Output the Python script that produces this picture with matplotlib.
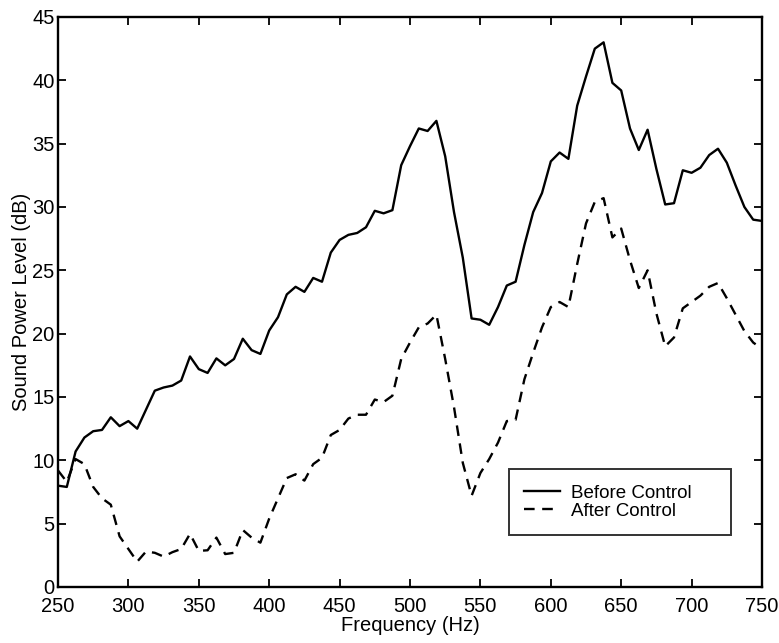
import numpy as np
import matplotlib
matplotlib.use("Agg")
import matplotlib.pyplot as plt

plt.rcParams['font.family'] = ['Liberation Sans', 'DejaVu Sans']

# Frequency grid (Hz), 6.25 Hz spacing from 250 to 750
freq = np.linspace(250, 750, 81)

before_control = [
    8.0, 7.9, 10.7, 11.8, 12.3, 12.4, 13.4, 12.7, 13.1, 12.5,
    14.0, 15.5, 15.75, 15.9, 16.3, 18.2, 17.2, 16.9, 18.05, 17.5,
    18.0, 19.6, 18.7, 18.4, 20.25, 21.3, 23.1, 23.7, 23.3, 24.4,
    24.1, 26.4, 27.4, 27.8, 27.95, 28.4, 29.7, 29.5, 29.75, 33.3,
    34.8, 36.2, 36.0, 36.8, 34.0, 29.6, 26.0, 21.2, 21.1, 20.7,
    22.1, 23.8, 24.1, 27.0, 29.6, 31.1, 33.6, 34.3, 33.8, 38.0,
    40.3, 42.5, 43.0, 39.8, 39.2, 36.2, 34.5, 36.1, 33.0, 30.2,
    30.3, 32.9, 32.7, 33.1, 34.1, 34.6, 33.5, 31.7, 30.0, 29.0,
    28.9,
]

after_control = [
    9.2, 8.3, 10.1, 9.7, 7.9, 7.0, 6.5, 4.0, 3.0, 2.0,
    2.8, 2.7, 2.4, 2.75, 3.0, 4.2, 2.85, 2.9, 3.9, 2.6,
    2.7, 4.5, 3.9, 3.5, 5.4, 7.0, 8.6, 8.9, 8.4, 9.7,
    10.2, 12.0, 12.4, 13.3, 13.6, 13.6, 14.8, 14.6, 15.1, 18.0,
    19.3, 20.5, 20.8, 21.5, 18.0, 14.2, 9.8, 7.2, 9.0, 10.1,
    11.4, 13.1, 13.2, 16.4, 18.5, 20.5, 22.1, 22.5, 22.1, 25.5,
    28.7, 30.4, 30.7, 27.6, 28.3, 25.8, 23.6, 25.0, 21.6, 19.0,
    19.7, 22.0, 22.5, 23.0, 23.7, 24.0, 22.8, 21.5, 20.2, 19.3,
    18.8,
]

x_ticks = [250, 300, 350, 400, 450, 500, 550, 600, 650, 700, 750]
y_ticks = [0, 5, 10, 15, 20, 25, 30, 35, 40, 45]

fig = plt.figure(figsize=(7.79, 6.43), dpi=100)
ax = fig.add_axes([58/779, 56/643, 704/779, 570/643])

ax.plot(freq, before_control, color='black', lw=1.7, label='Before Control')
ax.plot(freq, after_control, color='black', lw=1.7, linestyle=(0, (4.5, 3.2)),
        label='After Control')

ax.set_xlim(250, 750)
ax.set_ylim(0, 45)
ax.set_xticks(x_ticks)
ax.set_yticks(y_ticks)
ax.tick_params(axis='both', direction='in', length=6, width=1.3, top=True,
               right=True, labelsize=14.5)
ax.tick_params(axis='x', pad=7)
ax.tick_params(axis='y', pad=2.5)
for s in ax.spines.values():
    s.set_linewidth(1.7)

ax.set_xlabel('Frequency (Hz)', fontsize=14.5, labelpad=0.5)
ax.set_ylabel('Sound Power Level (dB)', fontsize=14.5, labelpad=1)

leg = ax.legend(loc='center left', bbox_to_anchor=(0.641, 0.092, 0.315, 0.114),
                mode='expand', fontsize=13.5, frameon=True, fancybox=False,
                edgecolor='black', handlelength=1.9, handletextpad=0.6,
                borderpad=0.8, labelspacing=0.05, borderaxespad=0)
leg.get_frame().set_linewidth(1.4)

fig.savefig('out.png', dpi=100)
